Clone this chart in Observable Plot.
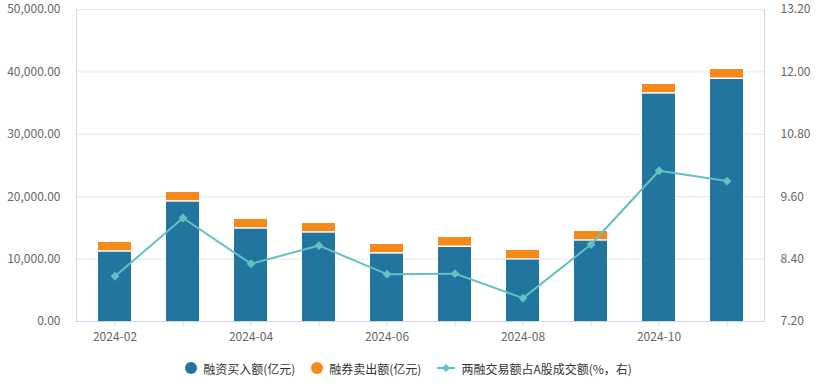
<!DOCTYPE html>
<html><head><meta charset="utf-8">
<script src="https://cdn.jsdelivr.net/npm/d3@7"></script>
<script src="https://cdn.jsdelivr.net/npm/@observablehq/plot@0.6"></script>
<style>
body{margin:0;background:#fff;font-family:"Noto Sans CJK SC","Noto Sans",sans-serif;}
#legend{display:flex;justify-content:center;align-items:center;height:32px;font-size:12px;color:#333;gap:16px;}
.li{display:flex;align-items:center;gap:6px;}
.dot{width:12px;height:12px;border-radius:50%;display:inline-block;}
</style></head>
<body>
<div id="chart"></div>
<div id="legend"></div>
<script>
const months = ["2024-02","2024-03","2024-04","2024-05","2024-06","2024-07","2024-08","2024-09","2024-10","2024-11"];
const marginBuy = [11100,19120,14790,14150,10790,11860,9830,12870,36430,38780];
const shortSell = [1560,1550,1560,1550,1550,1600,1550,1550,1550,1600];
const ratio = [8.07,9.19,8.31,8.66,8.11,8.12,7.65,8.68,10.10,9.90];
const leftTicks = [0,10000,20000,30000,40000,50000];
const seriesNames = ["融资买入额(亿元)","融券卖出额(亿元)","两融交易额占A股成交额(%，右)"];
const colors = ["#21759f","#f48a1a","#62c2c0"];

const rMin = 7.2, rMax = 13.2, lMax = 50000;
const toLeft = v => (v - rMin) / (rMax - rMin) * lMax;
const toRight = d => (rMin + d / lMax * (rMax - rMin)).toFixed(2);

const rows = months.map((m,i)=>({month:m, buy:marginBuy[i], top:marginBuy[i]+shortSell[i], v:toLeft(ratio[i])}));

const H = 352;
const chart = Plot.plot({
  width: 817, height: H,
  marginLeft: 76, marginRight: 53, marginTop: 9, marginBottom: H - 321,
  style: {fontFamily: '"Noto Sans CJK SC","Noto Sans",sans-serif', fontSize: "12px", color: "#666"},
  x: {domain: months, paddingInner: 0.52, paddingOuter: 0.26, label: null},
  y: {domain: [0, lMax], label: null},
  marks: [
    Plot.ruleY(leftTicks.slice(1), {stroke: "#e6e6e6"}),
    Plot.barY(rows, {x: "month", y1: 0, y2: "buy", fill: colors[0]}),
    Plot.barY(rows, {x: "month", y1: "buy", y2: "top", fill: colors[1], insetBottom: 1.5}),
    Plot.ruleY([0], {stroke: "#ccd6eb"}),
    Plot.frame({anchor: "left", stroke: "#ccd6eb"}),
    Plot.frame({anchor: "right", stroke: "#ccd6eb"}),
    Plot.line(rows, {x: "month", y: "v", stroke: colors[2], strokeWidth: 2}),
    Plot.dot(rows, {x: "month", y: "v", symbol: "diamond2", r: 4, fill: colors[2], stroke: "none"}),
    Plot.axisY({anchor: "left", ticks: leftTicks, tickSize: 0, tickPadding: 16, label: null, fill: "#666",
      tickFormat: d => d3.format(",.2f")(d)}),
    Plot.axisY({anchor: "right", ticks: leftTicks, tickSize: 0, tickPadding: 16, label: null, fill: "#666",
      tickFormat: toRight}),
    Plot.axisX({tickSize: 5, stroke: "#ccd6eb", tickPadding: 6, label: null, fill: "#666",
      tickFormat: d => months.indexOf(d) % 2 === 0 ? d : ""})
  ]
});
document.getElementById("chart").appendChild(chart);

const lg = document.getElementById("legend");
seriesNames.forEach((n,i)=>{
  const it = document.createElement("div"); it.className="li";
  if(i<2){ it.innerHTML = `<span class="dot" style="background:${colors[i]}"></span><span>${n}</span>`; }
  else { it.innerHTML = `<svg width="18" height="10"><line x1="0" y1="5" x2="18" y2="5" stroke="${colors[2]}" stroke-width="2"/><path d="M9,1 L13,5 L9,9 L5,5Z" fill="${colors[2]}"/></svg><span>${n}</span>`; }
  lg.appendChild(it);
});
</script>
</body></html>
